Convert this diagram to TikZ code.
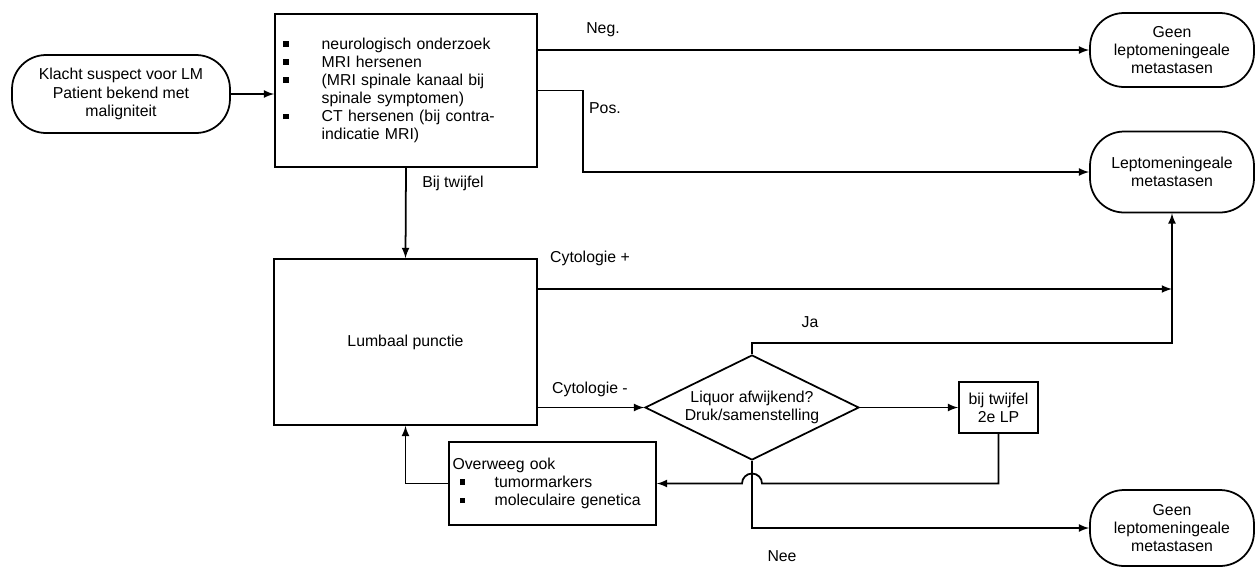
\documentclass[tikz,border=0pt]{standalone}
\usepackage{fontspec}
\setmainfont{Liberation Sans}
\usetikzlibrary{arrows}
\usetikzlibrary{calc}
\usetikzlibrary{shapes.geometric}

\newcommand{\blt}{\rule[0.3ex]{3.2pt}{3.2pt}}

\tikzset{
  term/.style={draw, rounded corners=0.68cm, align=center, inner sep=1pt},
  box/.style={draw, align=left, inner sep=0pt},
  flow/.style={-latex},
}

\begin{document}
\begin{tikzpicture}[x=0.02cm, y=-0.02cm, line width=1pt, font=\fontsize{9}{10.3}\selectfont]
\useasboundingbox (0,0) rectangle (1259,566);

% start and end points
\node[term, minimum width=4.36cm, minimum height=1.56cm] (start) at (121,94)
  {Klacht suspect voor LM\\Patient bekend met\\maligniteit};
\node[term, minimum width=3.28cm, minimum height=1.48cm] (geen1) at (1172,50)
  {Geen\\leptomeningeale\\metastasen};
\node[term, minimum width=3.28cm, minimum height=1.62cm] (lepto) at (1172,172)
  {Leptomeningeale\\metastasen};
\node[term, minimum width=3.28cm, minimum height=1.52cm] (geen2) at (1172,528)
  {Geen\\leptomeningeale\\metastasen};

% steps
\node[box, minimum width=5.24cm, minimum height=3.06cm, text width=4.92cm, inner xsep=0.16cm] (onderzoek) at (406,90.5)
  {\makebox[22pt][l]{\blt}neurologisch onderzoek\\
   \makebox[22pt][l]{\blt}MRI hersenen\\
   \makebox[22pt][l]{\blt}(MRI spinale kanaal bij\\
   \hspace*{22pt}spinale symptomen)\\
   \makebox[22pt][l]{\blt}CT hersenen (bij contra-\\
   \hspace*{22pt}indicatie MRI)};
\node[box, align=center, minimum width=5.26cm, minimum height=3.32cm] (lp) at (405.5,342) {Lumbaal punctie};
\node[draw, diamond, aspect=2, inner sep=0pt, align=center, minimum width=4.28cm, minimum height=2.1cm] (liquor) at (752,407.5)
  {Liquor afwijkend?\\Druk/samenstelling};
\node[box, align=center, minimum width=1.58cm, minimum height=1.02cm] (lp2) at (998.5,407.5) {bij twijfel\\2e LP};
\node[box, minimum width=4.14cm, minimum height=1.66cm, text width=4.0cm, inner xsep=0.07cm] (overweeg) at (552.5,483.5)
  {Overweeg ook\\
   \hspace*{4pt}\makebox[20pt][l]{\blt}tumormarkers\\
   \hspace*{4pt}\makebox[20pt][l]{\blt}moleculaire genetica};

% labels
\node (neg) at (603,30) {Neg.};
\node (pos) at (605,108) {Pos.};
\node (twijfel) at (453,183) {Bij twijfel};
\node (cytpos) at (590,258) {Cytologie +};
\node (cytneg) at (590,389) {Cytologie -};
\node (ja) at (810,322) {Ja};
\node (nee) at (782,556) {Nee};

% connectors
\coordinate (jaturn) at (1172,343);
\draw[flow] (start.east) -- (onderzoek.west |- start.east);
\draw[flow] (onderzoek.east |- geen1) -- (geen1.west);
\draw[flow] (onderzoek.east) -- ++(45,0) |- (lepto.west);
\draw[flow] (onderzoek.south) -- (lp.north);
\draw[flow] (lp.east |- 0,289) -- (jaturn |- 0,289);
\draw[flow] (liquor.north) -- (liquor.north |- jaturn) -- (jaturn) -- (lepto.south);
\draw[flow] (lp.east |- liquor.west) -- (liquor.west);
\draw[flow] (liquor.east) -- (lp2.west);
\draw[flow] (lp2.south) -- (lp2.south |- overweeg.east) -- ($(liquor.south |- overweeg.east)+(10,0)$)
  arc[start angle=0, end angle=180, radius=0.2cm] -- (overweeg.east);
\draw[flow] (liquor.south) |- (geen2.west);
\draw[flow] (overweeg.west) -| (lp.south);

\end{tikzpicture}
\end{document}
